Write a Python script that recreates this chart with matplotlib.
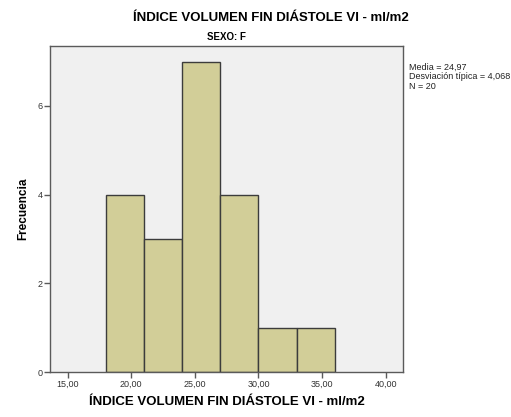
import matplotlib.pyplot as plt
import numpy as np

# Histograma de frecuencias por intervalo (SEXO: F)
bin_edges = [18, 21, 24, 27, 30, 33, 36]
frequencies = [4, 3, 7, 4, 1, 1]
x_ticks = [15, 20, 25, 30, 35, 40]
y_ticks = [0, 2, 4, 6]
media = "24,97"
desviacion = "4,068"
n_total = 20

title = "ÍNDICE VOLUMEN FIN DIÁSTOLE VI - ml/m2"

plt.rcParams["font.family"] = ["Liberation Sans", "DejaVu Sans"]

fig = plt.figure(figsize=(5.11, 4.17), dpi=100)
ax = fig.add_axes([0.0978, 0.1079, 0.6908, 0.7818])
ax.set_facecolor("#f0f0f0")

widths = np.diff(bin_edges)
ax.bar(bin_edges[:-1], frequencies, width=widths, align="edge",
       color="#d2ce98", edgecolor="#3c3c3c", linewidth=1.0, zorder=2)

ax.set_xlim(13.61, 41.36)
ax.set_ylim(0, 7.35)
ax.set_xticks(x_ticks)
ax.set_xticklabels([f"{t:.2f}".replace(".", ",") for t in x_ticks])
ax.set_yticks(y_ticks)

for side in ["left", "right", "top", "bottom"]:
    ax.spines[side].set_color("#5a5a5a")
    ax.spines[side].set_linewidth(1.0)

ax.tick_params(axis="both", direction="out", length=4, width=1,
               color="#5a5a5a", labelsize=6.5, labelcolor="#333333", pad=1.5)

ax.set_xlabel(title, fontsize=9.5, fontweight="bold", labelpad=5)
ax.set_ylabel("Frecuencia", fontsize=8.5, fontweight="bold", labelpad=6)

fig.text(271 / 511, 1 - 18 / 417, title, ha="center", va="center",
         fontsize=9.5, fontweight="bold")
fig.text(226 / 511, 1 - 37 / 417, "SEXO: F", ha="center", va="center",
         fontsize=7, fontweight="bold")

stats = f"Media = {media}\nDesviación típica = {desviacion}\nN = {n_total}"
fig.text(409 / 511, 1 - 63 / 417, stats, ha="left", va="top",
         fontsize=6.5, linespacing=1.05, color="#222222")

fig.savefig("out.png", dpi=100)
